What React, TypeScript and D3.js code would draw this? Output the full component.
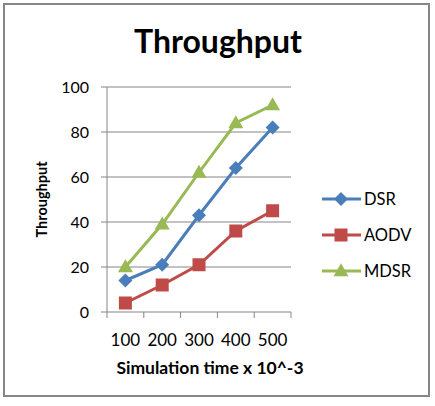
import React from "react";
import * as d3 from "d3";

const categories = ["100", "200", "300", "400", "500"];
const dsr = [14, 21, 43, 64, 82];
const aodv = [4, 12, 21, 36, 45];
const mdsr = [20, 39, 62, 84, 92];
const yTicks = [0, 20, 40, 60, 80, 100];

const seriesList = [
  { name: "DSR", values: dsr, color: "#4a7ebb", marker: "diamond" },
  { name: "AODV", values: aodv, color: "#be4b48", marker: "square" },
  { name: "MDSR", values: mdsr, color: "#98b954", marker: "triangle" },
];

const W = 435, H = 406;
const plot = { left: 107, right: 291, top: 87, bottom: 312 };
const font = "Lato, 'Open Sans', sans-serif";

function Marker({ type, x, y, color }: { type: string; x: number; y: number; color: string }) {
  if (type === "diamond") {
    const r = 7;
    return <path d={`M${x},${y - r}L${x + r},${y}L${x},${y + r}L${x - r},${y}Z`} fill={color} />;
  }
  if (type === "square") {
    const s = 13;
    return <rect x={x - s / 2} y={y - s / 2} width={s} height={s} fill={color} />;
  }
  const h = 13, w = 15;
  return <path d={`M${x},${y - h * 0.6}L${x + w / 2},${y + h * 0.4}L${x - w / 2},${y + h * 0.4}Z`} fill={color} />;
}

export default function App() {
  const x = d3.scaleBand<string>().domain(categories).range([plot.left, plot.right]);
  const y = d3.scaleLinear().domain([0, 100]).range([plot.bottom, plot.top]);
  const line = d3
    .line<number>()
    .x((_, i) => (x(categories[i]) as number) + x.bandwidth() / 2)
    .y((d) => y(d));
  const boundaries = categories.map((c) => x(c) as number).concat([plot.right]);
  const legendY = [199, 235, 271];

  return (
    <svg width={W} height={H} style={{ position: "absolute", left: 0, top: 0 }}>
      <rect x={0} y={0} width={W} height={H} fill="#fff" />
      <rect x={4} y={4} width={425} height={392} fill="#fff" stroke="#868686" strokeWidth={2} />
      <text x={218} y={53} textAnchor="middle" fontFamily={font} fontWeight="bold" fontSize={32} fill="#000">
        Throughput
      </text>
      {yTicks.map((t) => (
        <g key={t}>
          <line x1={plot.left - 6} x2={plot.right} y1={y(t)} y2={y(t)} stroke="#868686" strokeWidth={1} />
          <text x={89} y={y(t) + 6} textAnchor="end" fontFamily={font} fontSize={16} fill="#000">
            {t}
          </text>
        </g>
      ))}
      <line x1={plot.left} x2={plot.left} y1={plot.top} y2={plot.bottom} stroke="#868686" />
      {boundaries.map((b, i) => (
        <line key={i} x1={b} x2={b} y1={plot.bottom} y2={plot.bottom + 6} stroke="#868686" />
      ))}
      {categories.map((c) => (
        <text key={c} x={(x(c) as number) + x.bandwidth() / 2} y={346} textAnchor="middle" fontFamily={font} fontSize={17} fill="#000">
          {c}
        </text>
      ))}
      <text x={210} y={374} textAnchor="middle" fontFamily={font} fontWeight="bold" fontSize={17.5} fill="#000">
        Simulation time x 10^-3
      </text>
      <text transform={`translate(47,${(plot.top + plot.bottom) / 2}) rotate(-90)`} textAnchor="middle" fontFamily={font} fontWeight="bold" fontSize={14.5} fill="#000">
        Throughput
      </text>
      {seriesList.map((s) => (
        <g key={s.name}>
          <path d={line(s.values) as string} fill="none" stroke={s.color} strokeWidth={3} />
          {s.values.map((v, i) => (
            <Marker key={i} type={s.marker} x={(x(categories[i]) as number) + x.bandwidth() / 2} y={y(v)} color={s.color} />
          ))}
        </g>
      ))}
      {seriesList.map((s, i) => (
        <g key={s.name}>
          <line x1={322} x2={361} y1={legendY[i]} y2={legendY[i]} stroke={s.color} strokeWidth={3} />
          <Marker type={s.marker} x={341} y={legendY[i]} color={s.color} />
          <text x={364} y={legendY[i] + 6} fontFamily={font} fontSize={16.5} fill="#000">
            {s.name}
          </text>
        </g>
      ))}
    </svg>
  );
}
